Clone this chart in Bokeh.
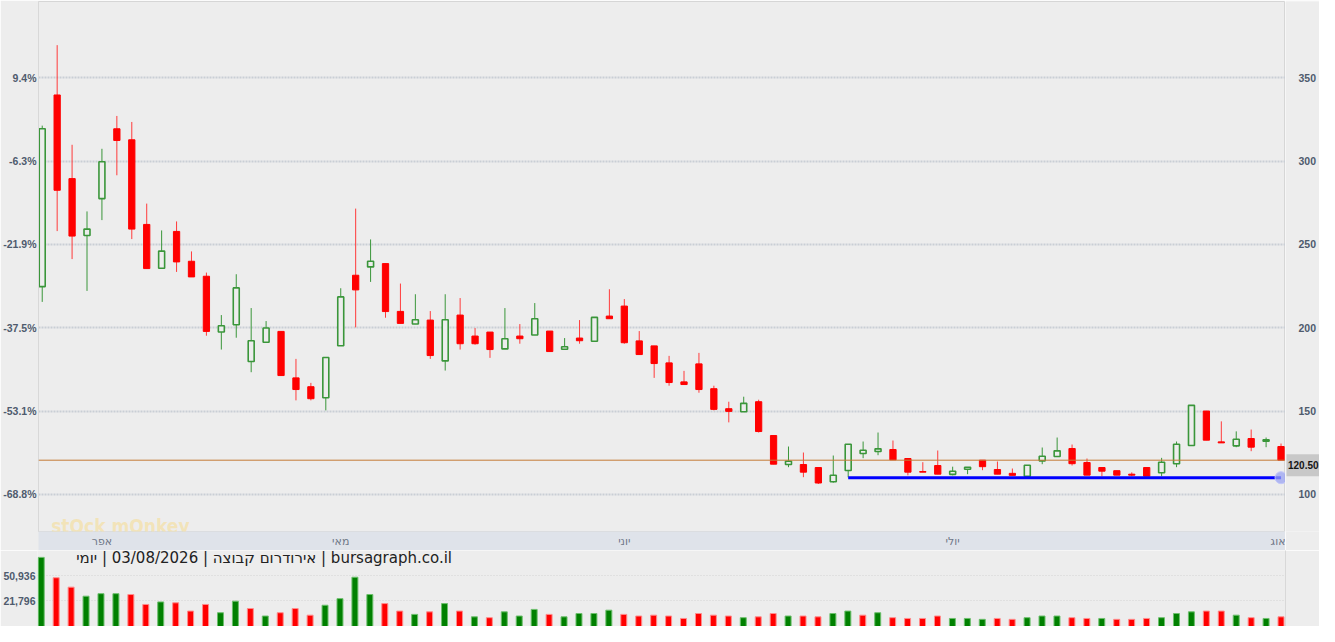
from bokeh.plotting import figure
from bokeh.models import (ColumnDataSource, LinearAxis, FixedTicker, Span, Label,
                          NumeralTickFormatter, Range1d)
from bokeh.layouts import column, row
from bokeh.embed import file_html
from bokeh.resources import INLINE
from bokeh.core.properties import value

# ---------------- data ----------------
MONTH_TICKS = [4, 20, 39, 61, 83]
MONTH_LABELS = ["אפר", "מאי", "יוני", "יולי", "אוג"]

OPEN = [224.7, 339.7, 289.5, 255.4, 277.5, 319.4, 312.8, 262.0, 235.7, 257.8,
        239.9, 230.9, 197.4, 201.8, 179.7, 191.3, 197.8, 169.9, 164.6, 158.0,
        189.2, 231.5, 236.5, 238.5, 209.8, 202.2, 204.6, 180.1, 207.6, 195.0,
        197.4, 187.3, 195.0, 195.6, 198.0, 187.1, 193.8, 191.9, 207.0, 213.0,
        192.1, 189.1, 178.9, 167.5, 178.3, 163.4, 151.4, 149.6, 155.6, 135.3,
        117.9, 117.9, 116.1, 107.6, 114.3, 124.5, 125.7, 126.9, 121.5, 113.7,
        117.3, 112.0, 115.1, 120.5, 114.9, 112.6, 110.9, 120.1, 122.7, 127.5,
        119.1, 116.1, 114.2, 112.1, 116.1, 113.0, 118.4, 129.3, 150.0, 131.5,
        129.1, 133.5, 131.9, 128.7]
HIGH = [321.3, 369.6, 309.8, 269.8, 307.4, 327.1, 323.5, 274.5, 258.4, 263.8,
        245.8, 233.1, 207.6, 232.1, 211.8, 204.0, 197.8, 181.3, 166.9, 182.1,
        223.7, 271.5, 253.0, 238.5, 226.5, 220.1, 210.0, 220.1, 217.8, 199.8,
        197.4, 211.8, 202.2, 214.8, 198.0, 193.8, 204.6, 206.2, 223.1, 217.2,
        198.0, 189.1, 183.1, 174.1, 184.9, 165.2, 155.6, 158.6, 156.8, 135.3,
        128.7, 125.1, 116.1, 123.3, 130.1, 131.7, 137.1, 132.3, 121.5, 119.3,
        126.3, 116.6, 116.3, 120.5, 119.7, 115.5, 117.5, 128.1, 134.1, 129.9,
        121.5, 116.1, 114.2, 113.2, 116.1, 121.9, 131.7, 153.4, 150.0, 143.8,
        137.8, 138.9, 134.1, 130.5]
LOW = [215.5, 258.0, 241.2, 222.1, 264.6, 291.5, 253.2, 235.5, 235.5, 233.5,
       230.5, 195.2, 186.9, 194.0, 173.3, 191.3, 171.3, 156.4, 156.4, 150.4,
       189.2, 200.2, 227.5, 206.0, 202.6, 202.2, 181.3, 174.3, 186.9, 189.8,
       181.9, 187.3, 190.4, 195.6, 185.7, 187.1, 190.4, 191.9, 205.4, 190.4,
       183.9, 169.9, 165.2, 165.9, 161.0, 150.4, 143.2, 149.6, 137.1, 118.1,
       116.3, 110.3, 106.2, 107.0, 110.2, 121.7, 123.5, 120.7, 111.4, 113.3,
       112.1, 111.4, 112.1, 114.5, 112.1, 111.4, 110.9, 118.1, 122.7, 117.3,
       111.5, 110.9, 111.5, 110.9, 110.9, 110.9, 116.3, 129.3, 132.5, 130.9,
       128.3, 125.9, 128.3, 120.5]
CLOSE = [319.4, 282.5, 255.0, 259.2, 299.6, 312.4, 259.2, 235.5, 246.0, 239.5,
         230.5, 197.8, 201.2, 223.9, 192.2, 199.8, 171.3, 162.9, 157.4, 182.1,
         218.5, 222.7, 239.9, 209.7, 202.6, 204.8, 183.3, 204.8, 190.4, 190.4,
         186.9, 193.4, 193.4, 205.4, 185.7, 188.6, 192.2, 206.2, 205.4, 191.0,
         183.9, 178.5, 167.1, 165.9, 162.9, 151.0, 149.8, 154.6, 137.7, 118.1,
         119.9, 113.3, 106.8, 111.5, 130.1, 126.5, 127.3, 120.7, 113.3, 113.3,
         112.1, 113.9, 116.3, 116.6, 112.1, 111.4, 117.5, 122.9, 126.1, 118.4,
         111.5, 113.9, 111.5, 111.5, 110.9, 119.3, 130.1, 153.4, 132.5, 130.9,
         133.1, 128.3, 132.7, 120.5]

VOLUME = [71800, 48400, 37600, 27200, 30100, 30100, 29100, 17700, 20600, 19600,
          10100, 17700, 8200, 21500, 13000, 4400, 8200, 13000, 5400, 16800,
          24400, 49000, 29100, 18700, 10100, 6300, 9200, 18700, 10100, 3500,
          2500, 9200, 4400, 12000, 6300, 3500, 7300, 7300, 11100, 6300,
          4400, 5400, 4400, 1600, 7300, 5400, 4400, 2500, 3500, 7300,
          4400, 4400, 3500, 7300, 10100, 5400, 8200, 2500, 1600, 1600,
          4400, 1600, 1600, 600, 1600, 600, 2500, 4400, 4400, 2500,
          1600, 1600, 600, 600, 1600, 2500, 7300, 9200, 10100, 10100,
          5400, 2500, 1600, 3500]
VOL_UP = [1, 0, 0, 1, 1, 1, 0, 0, 1, 0,
          0, 0, 1, 1, 0, 1, 0, 0, 0, 1,
          1, 1, 1, 0, 0, 1, 0, 1, 0, 1,
          0, 1, 1, 1, 0, 1, 1, 1, 1, 0,
          0, 0, 0, 0, 0, 0, 0, 1, 0, 0,
          1, 0, 0, 1, 1, 0, 1, 0, 0, 0,
          0, 1, 1, 1, 0, 0, 1, 1, 1, 0,
          0, 1, 0, 0, 0, 1, 1, 1, 0, 0,
          1, 0, 1, 0]

PRICE_TICKS = [100, 150, 200, 250, 300, 350]
PCT_LABELS = ["-68.8%", "-53.1%", "-37.5%", "-21.9%", "-6.3%", "9.4%"]
VOL_TICKS = [21796, 50936]
LAST_PRICE = 120.50
SUPPORT_LEVEL = 110.0
SUPPORT_START = 54
TITLE = "יומי\u200e | 03/08/2026 | \u200eאירודרום קבוצה | bursagraph.co.il"
WATERMARK = "stOck mOnkey"

# ---------------- layout / style constants ----------------
BG = "#ededed"
W = 1319
LEFT = 37
RIGHT = 34
MAIN_H = 550
TOP_B = 1
BAND_H = 17
VOL_H = 626 - MAIN_H
X_VIEW = (-0.25, 83.3)
PRICE_VIEW = (77.7, 395.8)
VOL_VIEW = (-7630, 79700)
TITLE_POS = (27.5, 71150)
WATERMARK_POS = (0.6, 81.3)
AXIS_TXT = "#4f5b6d"
LABEL_FONT = "Liberation Sans"
LABEL_SIZE = "10.5px"
GREEN = "#3a963a"
RED = "#ff0000"
PX_PER_UNIT = (MAIN_H - TOP_B - BAND_H) / (PRICE_VIEW[1] - PRICE_VIEW[0])
BOX_DROP_PX = 5

N = len(CLOSE)
idx = list(range(N))

up_i = [i for i in idx if CLOSE[i] >= OPEN[i]]
dn_i = [i for i in idx if CLOSE[i] < OPEN[i]]

wick_src = ColumnDataSource(dict(
    x=idx, lo=LOW, hi=HIGH,
    c=[GREEN if CLOSE[i] >= OPEN[i] else "#ff3b3b" for i in idx]))
up_src = ColumnDataSource(dict(
    x=up_i, top=[CLOSE[i] for i in up_i], bot=[OPEN[i] for i in up_i]))
dn_src = ColumnDataSource(dict(
    x=dn_i, top=[OPEN[i] for i in dn_i], bot=[CLOSE[i] for i in dn_i]))

# ---------------- main price figure ----------------
p = figure(width=W - RIGHT, height=MAIN_H, output_backend="svg",
           toolbar_location=None,
           x_range=Range1d(*X_VIEW), y_range=Range1d(*PRICE_VIEW),
           min_border_left=LEFT, min_border_right=0, min_border_top=TOP_B,
           min_border_bottom=BAND_H,
           background_fill_color=BG, border_fill_color=BG,
           outline_line_color="#d6d6d6", outline_line_width=1)

p.xgrid.visible = False
p.ygrid.ticker = FixedTicker(ticks=PRICE_TICKS)
p.ygrid.grid_line_color = "#c9ced5"
p.ygrid.grid_line_width = 2
p.ygrid.grid_line_dash = "2 1"

# left percentage axis
la = p.yaxis[0]
la.ticker = FixedTicker(ticks=PRICE_TICKS)
la.major_label_overrides = {t: s for t, s in zip(PRICE_TICKS, PCT_LABELS)}
la.axis_line_color = "#d8d8d8"
la.major_tick_line_color = None
la.minor_tick_line_color = None
la.major_tick_out = 0
la.major_tick_in = 0
la.major_label_standoff = 2
la.major_label_text_font = LABEL_FONT
la.major_label_text_font_style = "bold"
la.major_label_text_font_size = LABEL_SIZE
la.major_label_text_color = AXIS_TXT

# month axis (band)
xa = p.xaxis[0]
xa.ticker = FixedTicker(ticks=MONTH_TICKS)
xa.major_label_overrides = {t: s for t, s in zip(MONTH_TICKS, MONTH_LABELS)}
xa.axis_line_color = None
xa.major_tick_line_color = None
xa.minor_tick_line_color = None
xa.major_tick_out = 0
xa.major_tick_in = 0
xa.major_label_standoff = 3
xa.major_label_text_font = "DejaVu Sans"
xa.major_label_text_font_size = "11px"
xa.major_label_text_color = "#6f7888"
if "background_fill_color" in xa.properties():
    xa.background_fill_color = "#dfe3ea"

# watermark
p.add_layout(Label(x=WATERMARK_POS[0], y=WATERMARK_POS[1], text=WATERMARK,
                   text_font="DejaVu Sans Condensed, DejaVu Sans",
                   text_font_style="bold", text_font_size="19px",
                   text_color="#f3e2b0", text_alpha=0.85,
                   text_baseline="alphabetic"))

# candles
p.segment(x0="x", y0="lo", x1="x", y1="hi", line_color="c", line_width=1,
          source=wick_src)
p.vbar(x="x", width=0.42, top="top", bottom="bot", fill_color=RED,
       line_color=RED, line_width=1, source=dn_src)
p.vbar(x="x", width=0.40, top="top", bottom="bot", fill_color=BG,
       line_color=GREEN, line_width=1.6, source=up_src)

# last price line
p.add_layout(Span(location=LAST_PRICE, dimension="width",
                  line_color="#c47a36", line_width=1))

# support line
p.line(x=[SUPPORT_START, N - 1], y=[SUPPORT_LEVEL, SUPPORT_LEVEL],
       line_color="#0000ff", line_width=3)
p.scatter(x=[N - 1], y=[SUPPORT_LEVEL], size=12, marker="circle",
          fill_color="#9aa3f2", fill_alpha=0.75, line_color="#c2c7fa",
          line_width=1)

# ---------------- right price-scale strip ----------------
rp = figure(width=RIGHT, height=MAIN_H, output_backend="svg",
            toolbar_location=None,
            x_range=Range1d(0, RIGHT), y_range=p.y_range,
            x_axis_location=None, y_axis_location=None,
            min_border_left=0, min_border_right=0, min_border_top=TOP_B,
            min_border_bottom=BAND_H,
            background_fill_color=BG, border_fill_color=BG,
            outline_line_color=None)
rp.grid.visible = False
rp.text(x=[13] * len(PRICE_TICKS), y=PRICE_TICKS,
        text=[str(t) for t in PRICE_TICKS], text_align="left",
        text_baseline="middle", text_font=value(LABEL_FONT),
        text_font_style="bold", text_font_size=LABEL_SIZE,
        text_color=AXIS_TXT)
box_y = LAST_PRICE - BOX_DROP_PX / PX_PER_UNIT
rp.rect(x=[RIGHT / 2 + 1], y=[box_y], width=RIGHT, height=22,
        height_units="screen", fill_color="#c8c8c8", line_color=None)
rp.text(x=[2.5], y=[box_y], text=[f"{LAST_PRICE:.2f}"], text_align="left",
        text_baseline="middle", text_font=value(LABEL_FONT),
        text_font_style="bold", text_font_size="10px", text_color="#151515")

# ---------------- volume figure ----------------
v = figure(width=W, height=VOL_H, output_backend="svg", toolbar_location=None,
           x_range=p.x_range, y_range=Range1d(*VOL_VIEW),
           x_axis_location=None,
           min_border_left=LEFT, min_border_right=RIGHT, min_border_top=0,
           min_border_bottom=0,
           background_fill_color=BG, border_fill_color=BG,
           outline_line_color=None)
v.xgrid.visible = False
v.ygrid.ticker = FixedTicker(ticks=VOL_TICKS)
v.ygrid.grid_line_color = "#d2d2d2"
v.ygrid.grid_line_dash = "1 2"
v.ygrid.grid_line_width = 1

vla = v.yaxis[0]
vla.ticker = FixedTicker(ticks=VOL_TICKS)
vla.formatter = NumeralTickFormatter(format="0,0")
vla.axis_line_color = None
vla.major_tick_line_color = None
vla.minor_tick_line_color = None
vla.major_tick_out = 0
vla.major_tick_in = 0
vla.major_label_standoff = 2
vla.major_label_text_font = LABEL_FONT
vla.major_label_text_font_style = "bold"
vla.major_label_text_font_size = LABEL_SIZE
vla.major_label_text_color = AXIS_TXT

vra = LinearAxis(ticker=FixedTicker(ticks=[]))
vra.axis_line_color = "#d8d8d8"
vra.major_tick_line_color = None
vra.minor_tick_line_color = None
vra.major_tick_out = 0
vra.major_tick_in = 0
vra.major_label_text_font_size = "0px"
v.add_layout(vra, "right")

vol_src = ColumnDataSource(dict(
    x=idx, top=VOLUME,
    fc=["#008000" if u else "#ff0000" for u in VOL_UP],
    lc=["#6cbf6c" if u else "#ff8c8c" for u in VOL_UP]))
v.vbar(x="x", width=0.4, top="top", bottom=VOL_VIEW[0], fill_color="fc",
       line_color="lc", line_width=1, source=vol_src)

v.text(x=[TITLE_POS[0]], y=[TITLE_POS[1]], text=[TITLE], text_align="right",
       text_baseline="middle", text_font=value("DejaVu Sans"),
       text_font_size="15px", text_color="#222222")

layout = column(row(p, rp), v)
open("out.html", "w").write(file_html(layout, INLINE))
